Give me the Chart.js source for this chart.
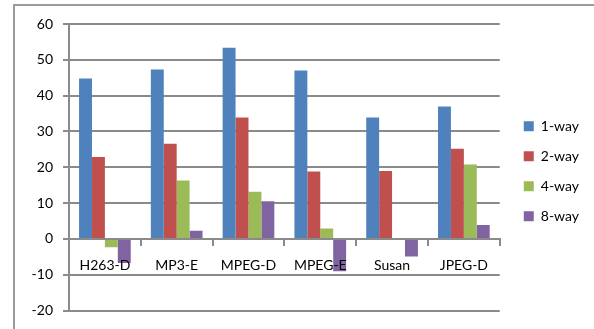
<!DOCTYPE html>
<html>
<head>
<meta charset="utf-8">
<script src="https://cdn.jsdelivr.net/npm/chart.js@4/dist/chart.umd.min.js"></script>
<style>
  html, body { margin: 0; padding: 0; background: #fff; }
  #wrap { position: relative; width: 594px; height: 329px; }
</style>
</head>
<body>
<div id="wrap"><canvas id="c" width="594" height="329"></canvas></div>
<script>
// Benchmarks on the category axis
const categories = ['H263-D', 'MP3-E', 'MPEG-D', 'MPEG-E', 'Susan', 'JPEG-D'];

// Series values per configuration
const oneWay   = [44.8, 47.3, 53.4, 47.0, 33.9, 37.0];
const twoWay   = [22.9, 26.6, 33.9, 18.8, 19.0, 25.2];
const fourWay  = [-2.3, 16.3, 13.2, 2.9, 0, 20.8];
const eightWay = [-6.7, 2.3, 10.5, -9.0, -4.9, 3.9];

const seriesNames = ['1-way', '2-way', '4-way', '8-way'];
const seriesColors = ['#4F81BD', '#C0504D', '#9BBB59', '#8064A2'];

// Value axis range
const yMin = -20, yMax = 60, yStep = 10;

const GRID = '#8a8a8a';
const FONT = 'Lato, "DejaVu Sans", sans-serif';

// Outer frame around the chart
const framePlugin = {
  id: 'frame',
  beforeDraw(chart) {
    const ctx = chart.ctx;
    ctx.save();
    ctx.strokeStyle = '#9a9a9a';
    ctx.lineWidth = 2;
    ctx.beginPath();
    ctx.moveTo(14, chart.height + 2);
    ctx.lineTo(14, 5);
    ctx.lineTo(chart.width + 2, 5);
    ctx.stroke();
    ctx.restore();
  }
};

const allSeries = [oneWay, twoWay, fourWay, eightWay];

new Chart(document.getElementById('c'), {
  type: 'bar',
  data: {
    labels: categories,
    datasets: allSeries.map((vals, i) => ({
      label: seriesNames[i],
      data: vals,
      backgroundColor: seriesColors[i],
      borderWidth: 0,
      categoryPercentage: 0.72,
      barPercentage: 1.0
    }))
  },
  options: {
    responsive: false,
    animation: false,
    events: [],
    layout: { padding: { top: 24, bottom: 17, left: 0, right: 5 } },
    plugins: {
      tooltip: { enabled: false },
      legend: {
        position: 'right',
        fullSize: false,
        title: {
          display: true,
          text: '',
          font: { size: 1, lineHeight: 1 },
          padding: { top: 0, bottom: 7 }
        },
        labels: {
          boxWidth: 10,
          boxHeight: 10,
          padding: 16,
          color: '#000',
          font: { family: FONT, size: 14 }
        }
      }
    },
    scales: {
      x: {
        position: { y: 0 },
        offset: true,
        afterFit(scale) { scale.height = 0; },
        grid: {
          offset: true,
          drawOnChartArea: false,
          drawTicks: true,
          tickLength: 6,
          color: GRID,
          lineWidth: 2
        },
        border: { display: true, color: GRID, width: 2 },
        ticks: {
          z: 1,
          color: '#000',
          padding: 12,
          maxRotation: 0,
          font: { family: FONT, size: 14 }
        }
      },
      y: {
        min: yMin,
        max: yMax,
        afterFit(scale) { scale.width = 69; },
        ticks: {
          stepSize: yStep,
          color: '#000',
          padding: 10,
          font: { family: FONT, size: 14 }
        },
        grid: {
          color: GRID,
          lineWidth: 2,
          tickLength: 6
        },
        border: { display: true, color: GRID, width: 2 }
      },
      gap: {
        position: 'right',
        display: true,
        afterFit(scale) { scale.width = 8; },
        ticks: { display: false },
        grid: { display: false },
        border: { display: false }
      }
    }
  },
  plugins: [framePlugin]
});
</script>
</body>
</html>
